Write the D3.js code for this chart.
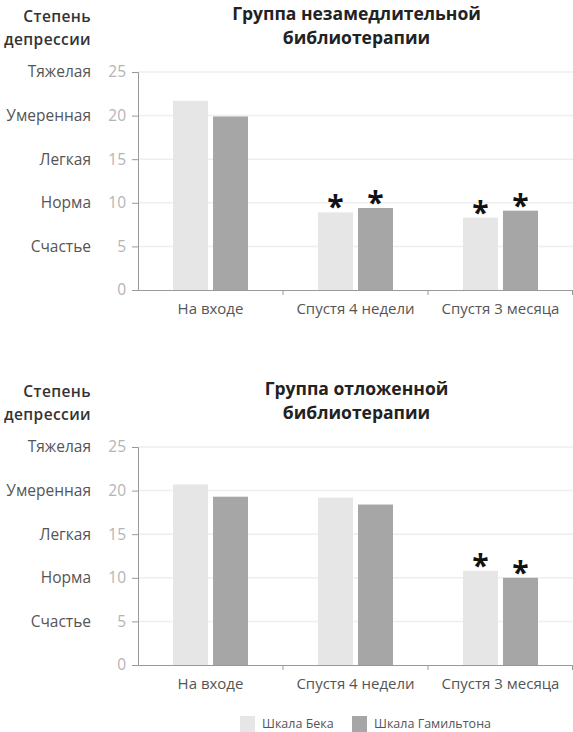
<!DOCTYPE html>
<html>
<head>
<meta charset="utf-8">
<script src="https://cdn.jsdelivr.net/npm/d3@7"></script>
<style>
  body { margin: 0; background: #fff; }
  svg { display: block; font-family: "Open Sans", sans-serif; }
</style>
</head>
<body>
<div id="chart"></div>
<script>
// Data
const categories = ["На входе", "Спустя 4 недели", "Спустя 3 месяца"];
const seriesNames = ["Шкала Бека", "Шкала Гамильтона"];
const seriesColors = ["#e6e6e6", "#a6a6a6"];
const yTicks = [0, 5, 10, 15, 20, 25];
const severityLabels = ["", "Счастье", "Норма", "Легкая", "Умеренная", "Тяжелая"];

const immediateTitle = ["Группа незамедлительной", "библиотерапии"];
const immediateBeck = [21.7, 8.9, 8.3];
const immediateHamilton = [19.9, 9.4, 9.1];
const immediateStars = [false, true, true];

const delayedTitle = ["Группа отложенной", "библиотерапии"];
const delayedBeck = [20.7, 19.2, 10.8];
const delayedHamilton = [19.3, 18.4, 10.0];
const delayedStars = [false, false, true];

// Layout
const W = 573, H = 732;
const plotLeft = 138, plotRight = 573, plotTop = 72, plotBottom = 290;
const panelOffset = 375;

const svg = d3.select("#chart").append("svg")
    .attr("width", W)
    .attr("height", H);

const x = d3.scaleBand().domain(categories).range([plotLeft, plotRight]);
const xInner = d3.scaleBand()
    .domain(seriesNames)
    .range([0, x.bandwidth()])
    .paddingInner(0.125)
    .paddingOuter(0.875);
const y = d3.scaleLinear().domain([0, 25]).range([plotBottom, plotTop]);

function drawPanel(offset, title, beck, hamilton, stars) {
    const g = svg.append("g").attr("transform", `translate(0,${offset})`);
    const cx = (plotLeft + plotRight) / 2 + 1;

    // title
    g.append("text")
        .attr("text-anchor", "middle")
        .attr("font-size", 17.5)
        .attr("font-weight", "bold")
        .attr("fill", "#222")
        .selectAll("tspan")
        .data(title)
        .join("tspan")
        .attr("x", cx)
        .attr("y", (d, i) => 20 + i * 24)
        .text(d => d);

    // "Степень депрессии"
    g.append("text")
        .attr("text-anchor", "end")
        .attr("font-size", 15.5)
        .attr("font-weight", 600)
        .attr("letter-spacing", 0.4)
        .attr("fill", "#333")
        .selectAll("tspan")
        .data(["Степень", "депрессии"])
        .join("tspan")
        .attr("x", 91)
        .attr("y", (d, i) => 22 + i * 23)
        .text(d => d);

    // grid
    g.append("g").selectAll("line")
        .data(yTicks.filter(d => d > 0))
        .join("line")
        .attr("x1", plotLeft).attr("x2", plotRight)
        .attr("y1", d => y(d)).attr("y2", d => y(d))
        .attr("stroke", "#eeeeee")
        .attr("stroke-width", 1.5);

    // bars
    const rows = categories.map((c, i) => ({ cat: c, values: [beck[i], hamilton[i]], star: stars[i] }));
    const grp = g.append("g").selectAll("g")
        .data(rows)
        .join("g")
        .attr("transform", d => `translate(${x(d.cat)},0)`);

    grp.selectAll("rect")
        .data(d => d.values.map((v, j) => ({ name: seriesNames[j], value: v, color: seriesColors[j] })))
        .join("rect")
        .attr("x", d => xInner(d.name))
        .attr("width", xInner.bandwidth())
        .attr("y", d => y(d.value))
        .attr("height", d => y(0) - y(d.value))
        .attr("fill", d => d.color);

    grp.filter(d => d.star).selectAll("text.star")
        .data(d => d.values.map((v, j) => ({ name: seriesNames[j], value: v })))
        .join("text")
        .attr("class", "star")
        .attr("x", d => xInner(d.name) + xInner.bandwidth() / 2)
        .attr("y", d => y(d.value) + 5)
        .attr("text-anchor", "middle")
        .attr("font-size", 30)
        .attr("font-weight", "bold")
        .attr("fill", "#111")
        .text("*");

    // y axis
    const yAxis = g.append("g")
        .attr("transform", `translate(${plotLeft},0)`)
        .call(d3.axisLeft(y).tickValues(yTicks).tickSize(6).tickPadding(6));
    yAxis.select(".domain").attr("stroke", "#999");
    yAxis.selectAll(".tick line").attr("stroke", "#999");
    yAxis.selectAll(".tick text")
        .attr("font-family", "Open Sans, sans-serif")
        .attr("font-size", 15.5)
        .attr("fill", "#b4b4b4");

    // severity labels
    g.append("g").selectAll("text")
        .data(yTicks.filter(d => d > 0))
        .join("text")
        .attr("x", 91)
        .attr("y", d => y(d))
        .attr("dy", "0.35em")
        .attr("text-anchor", "end")
        .attr("font-size", 15.5)
        .attr("fill", "#555")
        .text(d => severityLabels[yTicks.indexOf(d)]);

    // x axis
    const xAxis = g.append("g")
        .attr("transform", `translate(0,${plotBottom})`)
        .call(d3.axisBottom(x).tickSize(0).tickPadding(13));
    xAxis.select(".domain").attr("stroke", "#999");
    xAxis.selectAll(".tick text")
        .attr("font-family", "Open Sans, sans-serif")
        .attr("font-size", 15)
        .attr("fill", "#555");
    // small separators between categories
    xAxis.append("g").selectAll("line")
        .data(categories.slice(1).concat(["end"]))
        .join("line")
        .attr("x1", d => d === "end" ? plotRight - 0.5 : x(d))
        .attr("x2", d => d === "end" ? plotRight - 0.5 : x(d))
        .attr("y1", 0).attr("y2", 5)
        .attr("stroke", "#999");
}

drawPanel(0, immediateTitle, immediateBeck, immediateHamilton, immediateStars);
drawPanel(panelOffset, delayedTitle, delayedBeck, delayedHamilton, delayedStars);

// legend
const legend = svg.append("g").attr("transform", "translate(240,716)");
const li = legend.selectAll("g")
    .data(seriesNames)
    .join("g")
    .attr("transform", (d, i) => `translate(${i * 112},0)`);
li.append("rect")
    .attr("width", 15).attr("height", 16)
    .attr("fill", (d, i) => seriesColors[i]);
li.append("text")
    .attr("x", 22).attr("y", 8)
    .attr("dy", "0.35em")
    .attr("font-size", 12.5)
    .attr("fill", "#555")
    .text(d => d);
</script>
</body>
</html>
